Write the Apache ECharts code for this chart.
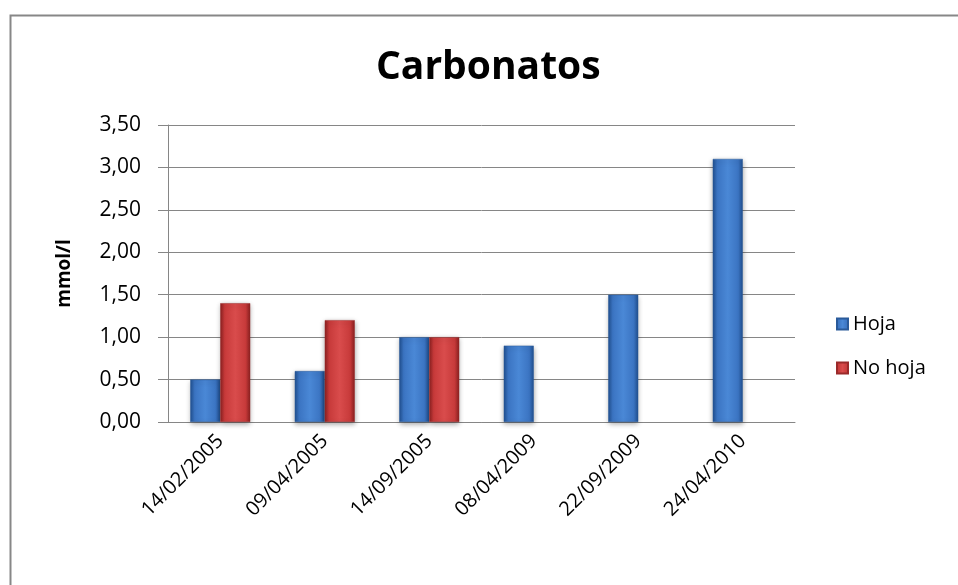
<!DOCTYPE html>
<html>
<head>
<meta charset="utf-8">
<script src="https://cdn.jsdelivr.net/npm/echarts@6/dist/echarts.min.js"></script>
<style>
html,body{margin:0;padding:0;background:#fff;}
#chart{width:958px;height:585px;}
</style>
</head>
<body>
<div id="chart"></div>
<script>
var categories = ['14/02/2005','09/04/2005','14/09/2005','08/04/2009','22/09/2009','24/04/2010'];
var hoja = [0.5, 0.6, 1.0, 0.9, 1.5, 3.1];
var noHoja = [1.4, 1.2, 1.0, null, null, null];
var seriesNames = ['Hoja', 'No hoja'];
var titleText = 'Carbonatos';
var yAxisName = 'mmol/l';

var FONT = '"Open Sans", sans-serif';
var chart = echarts.init(document.getElementById('chart'));

function grad(edge, mid, light) {
  return new echarts.graphic.LinearGradient(0, 0, 1, 0, [
    {offset: 0, color: edge},
    {offset: 0.15, color: mid},
    {offset: 0.5, color: light},
    {offset: 0.85, color: mid},
    {offset: 1, color: edge}
  ]);
}

var option = {
  animation: false,
  backgroundColor: '#ffffff',
  graphic: [{
    type: 'rect',
    left: 8, top: 13,
    shape: {width: 1000, height: 1000},
    style: {fill: 'none', stroke: '#878787', lineWidth: 2},
    silent: true
  }],
  title: {
    text: titleText,
    left: 371,
    top: 43,
    textStyle: {fontFamily: FONT, fontWeight: 'bold', fontSize: 39, color: '#000'}
  },
  legend: {
    orient: 'vertical',
    left: 831,
    top: 309,
    itemWidth: 11,
    itemHeight: 11,
    itemGap: 24,
    icon: 'rect',
    textStyle: {fontFamily: FONT, fontSize: 20, color: '#000'},
    data: seriesNames
  },
  grid: {left: 168, right: 163, top: 125, bottom: 163, containLabel: false},
  xAxis: {
    type: 'category',
    data: categories,
    axisLine: {show: true, lineStyle: {color: '#868686', width: 1}},
    axisTick: {show: false},
    axisLabel: {rotate: 45, fontFamily: FONT, fontSize: 20, color: '#000', margin: 16, interval: 0}
  },
  yAxis: {
    type: 'value',
    min: 0, max: 3.5, interval: 0.5,
    name: yAxisName,
    nameLocation: 'middle',
    nameGap: 94,
    nameRotate: 90,
    nameTextStyle: {fontFamily: FONT, fontWeight: 'bold', fontSize: 19, color: '#000'},
    axisLine: {show: true, lineStyle: {color: '#868686', width: 1}},
    axisTick: {show: true, length: 10, lineStyle: {color: '#868686'}},
    axisLabel: {
      fontFamily: FONT, fontSize: 21, color: '#000', margin: 27,
      formatter: function (v) { return v.toFixed(2).replace('.', ','); }
    },
    splitLine: {show: true, lineStyle: {color: '#868686', width: 1}}
  },
  series: [{
    name: seriesNames[0],
    type: 'bar',
    data: hoja,
    barWidth: 30,
    barGap: '0%',
    itemStyle: {
      color: grad('#1f4f8f', '#3b74c2', '#4a88d6'),
      borderColor: '#2a5a9a', borderWidth: 0.5,
      shadowColor: 'rgba(0,0,0,0.35)', shadowBlur: 5, shadowOffsetY: 2
    }
  }, {
    name: seriesNames[1],
    type: 'bar',
    data: noHoja,
    barWidth: 30,
    barGap: '0%',
    itemStyle: {
      color: grad('#8a1f1f', '#c73a3a', '#d94c4c'),
      borderColor: '#9a2a2a', borderWidth: 0.5,
      shadowColor: 'rgba(0,0,0,0.35)', shadowBlur: 5, shadowOffsetY: 2
    }
  }]
};
chart.setOption(option);
</script>
</body>
</html>
